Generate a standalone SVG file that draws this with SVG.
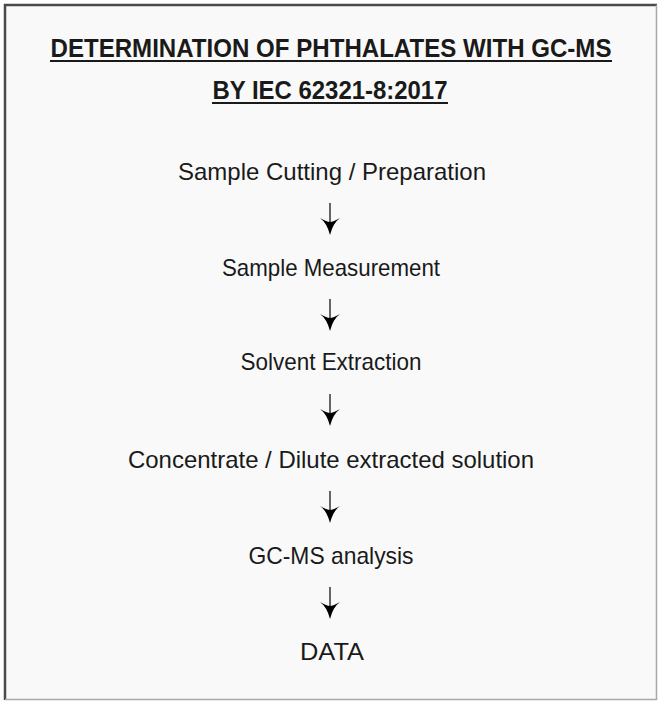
<svg xmlns="http://www.w3.org/2000/svg" width="659" height="701" viewBox="0 0 659 701">
<defs>
<style>
.title{font-family:"Liberation Sans",Arial,sans-serif;font-weight:bold;font-size:25px;fill:#1a1a1a;text-anchor:middle}
.step{font-family:"Liberation Sans",Arial,sans-serif;font-size:24px;fill:#1a1a1a;text-anchor:middle}
.ul{stroke:#1a1a1a;stroke-width:2}
.arr{stroke:#666;stroke-width:2;fill:none}
.head{fill:#000}
</style>
</defs>
<rect x="0" y="0" width="659" height="701" fill="#ffffff"/>
<rect x="5" y="5" width="651" height="694" fill="#f9f9f9"/>
<line x1="4" y1="5" x2="657" y2="5" stroke="#4a4a4a" stroke-width="2.5"/>
<line x1="5" y1="4" x2="5" y2="700" stroke="#4a4a4a" stroke-width="2.5"/>
<line x1="656.5" y1="5" x2="656.5" y2="700" stroke="#a8a8a8" stroke-width="1.5"/>
<line x1="5" y1="699.5" x2="657" y2="699.5" stroke="#a8a8a8" stroke-width="1.5"/>

<g id="title">
<text class="title" x="331" y="57" textLength="561" lengthAdjust="spacingAndGlyphs">DETERMINATION OF PHTHALATES WITH GC-MS</text>
<line class="ul" x1="50" y1="61" x2="612" y2="61"/>
<text class="title" x="330" y="99" textLength="235" lengthAdjust="spacingAndGlyphs">BY IEC 62321-8:2017</text>
<line class="ul" x1="212" y1="103" x2="448" y2="103"/>
</g>

<g id="n1"><text class="step" x="332" y="180" textLength="308" lengthAdjust="spacingAndGlyphs">Sample Cutting / Preparation</text></g>
<g id="n2"><text class="step" x="331" y="276" textLength="218" lengthAdjust="spacingAndGlyphs">Sample Measurement</text></g>
<g id="n3"><text class="step" x="331" y="370" textLength="181" lengthAdjust="spacingAndGlyphs">Solvent Extraction</text></g>
<g id="n4"><text class="step" x="331" y="468" textLength="406" lengthAdjust="spacingAndGlyphs">Concentrate / Dilute extracted solution</text></g>
<g id="n5"><text class="step" x="331" y="564" textLength="165" lengthAdjust="spacingAndGlyphs">GC-MS analysis</text></g>
<g id="n6"><text class="step" x="332" y="660" textLength="64" lengthAdjust="spacingAndGlyphs">DATA</text></g>

<g id="connectors">
<g transform="translate(330,203)"><line class="arr" x1="0" y1="0" x2="0" y2="22"/><path class="head" d="M-10,15 Q-3,20 0,32 Q3,20 10,15 Q3,19 0,19 Q-3,19 -10,15Z"/></g>
<g transform="translate(330,299)"><line class="arr" x1="0" y1="0" x2="0" y2="22"/><path class="head" d="M-10,15 Q-3,20 0,32 Q3,20 10,15 Q3,19 0,19 Q-3,19 -10,15Z"/></g>
<g transform="translate(330,394)"><line class="arr" x1="0" y1="0" x2="0" y2="22"/><path class="head" d="M-10,15 Q-3,20 0,32 Q3,20 10,15 Q3,19 0,19 Q-3,19 -10,15Z"/></g>
<g transform="translate(330,491)"><line class="arr" x1="0" y1="0" x2="0" y2="22"/><path class="head" d="M-10,15 Q-3,20 0,32 Q3,20 10,15 Q3,19 0,19 Q-3,19 -10,15Z"/></g>
<g transform="translate(330,587)"><line class="arr" x1="0" y1="0" x2="0" y2="22"/><path class="head" d="M-10,15 Q-3,20 0,32 Q3,20 10,15 Q3,19 0,19 Q-3,19 -10,15Z"/></g>
</g>
</svg>
